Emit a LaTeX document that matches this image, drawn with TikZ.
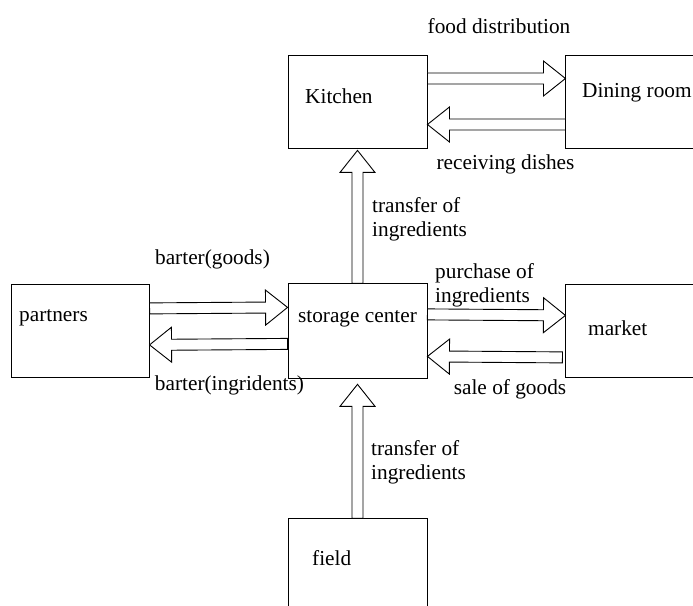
\documentclass[tikz,border=0pt]{standalone}
\usepackage{fontspec}
\setmainfont{Liberation Serif}
\usepackage{tikz}
\usetikzlibrary{positioning}
\usetikzlibrary{calc}
\tikzstyle{room}=[draw, line width=0.9pt, shape=rectangle, minimum width=139pt, minimum height=93pt, inner sep=0pt]
\tikzstyle{lbl}=[inner sep=0pt, font=\fontsize{21.3}{24}\selectfont]
\tikzstyle{lbll}=[inner sep=0pt, anchor=west, align=left, font=\fontsize{21.3}{24}\selectfont]
\tikzstyle{barrow}=[draw, fill=white, line width=0.9pt, line join=miter]
\def\room{\node[style=room]}
\def\lbl{\node[style=lbl]}
\def\lbll{\node[style=lbll]}
% hollow block arrow from #1 to #2
\newcommand\barrow[2]{%
  \coordinate (ba-s) at (#1);
  \coordinate (ba-t) at (#2);
  \coordinate (ba-h) at ($(ba-t)!22pt!(ba-s)$);
  \draw[style=barrow] ($(ba-s)!5.5pt!90:(ba-t)$) -- ($(ba-h)!5.5pt!90:(ba-t)$)
    -- ($(ba-h)!17.5pt!90:(ba-t)$) -- (ba-t) -- ($(ba-h)!17.5pt!-90:(ba-t)$)
    -- ($(ba-h)!5.5pt!-90:(ba-t)$) -- ($(ba-s)!5.5pt!-90:(ba-t)$) -- cycle;}

\begin{document}
\begin{tikzpicture}[x=1pt, y=1pt]
      \useasboundingbox (0,0) rectangle (693,605);
      % boxes
      \room (kitchen) at (357.5,503.5)             {};
      \room (dining)   [right=138pt of kitchen]    {};
      \room (storage)  [below=135pt of kitchen, minimum height=95pt] {};
      \room (market)   [right=138pt of storage, minimum height=93pt] {};
      \room (partners) [left=138pt of storage, minimum width=138pt]  {};
      \room (field)    [below=139pt of storage]    {};

      % arrows
      \barrow{[yshift=23pt]kitchen.east}{[yshift=23pt]dining.west}
      \barrow{[yshift=-23pt]dining.west}{[yshift=-23pt]kitchen.east}
      \barrow{storage.north}{[yshift=-2pt]kitchen.south}
      \barrow{[yshift=23pt]partners.east}{[yshift=24pt]storage.west}
      \barrow{[yshift=-12.5pt]storage.west}{[yshift=-13.5pt]partners.east}
      \barrow{[yshift=17pt]storage.east}{[yshift=16pt]market.west}
      \barrow{[xshift=-3pt,yshift=-26pt]market.west}{[yshift=-25pt]storage.east}
      \barrow{field.north}{[yshift=-5pt]storage.south}

      % labels
      \lbll (tkitchen)  at (305,509)   {Kitchen};
      \lbll (tdining)   at (582,512)   {Dining room};
      \lbll (tpartners) at (19,287)    {partners};
      \lbl  (tstorage)  at (357.5,286) {storage center};
      \lbll (tmarket)   at (588,277)   {market};
      \lbll (tfield)    at (312,47)    {field};

      \lbl  (lfood)    at (499,579)   {food distribution};
      \lbl  (ldishes)  at (505.5,441) {receiving dishes};
      \lbll (ltransk)  at (372,386)   {transfer of\\ingredients};
      \lbl  (lbgoods)  at (212.5,346) {barter(goods)};
      \lbll (lpurch)   at (435,320)   {purchase of\\ingredients};
      \lbl  (lbingr)   at (229.5,220) {barter(ingridents)};
      \lbl  (lsale)    at (510,216)   {sale of goods};
      \lbll (ltransf)  at (371,143)   {transfer of\\ingredients};
\end{tikzpicture}
\end{document}
